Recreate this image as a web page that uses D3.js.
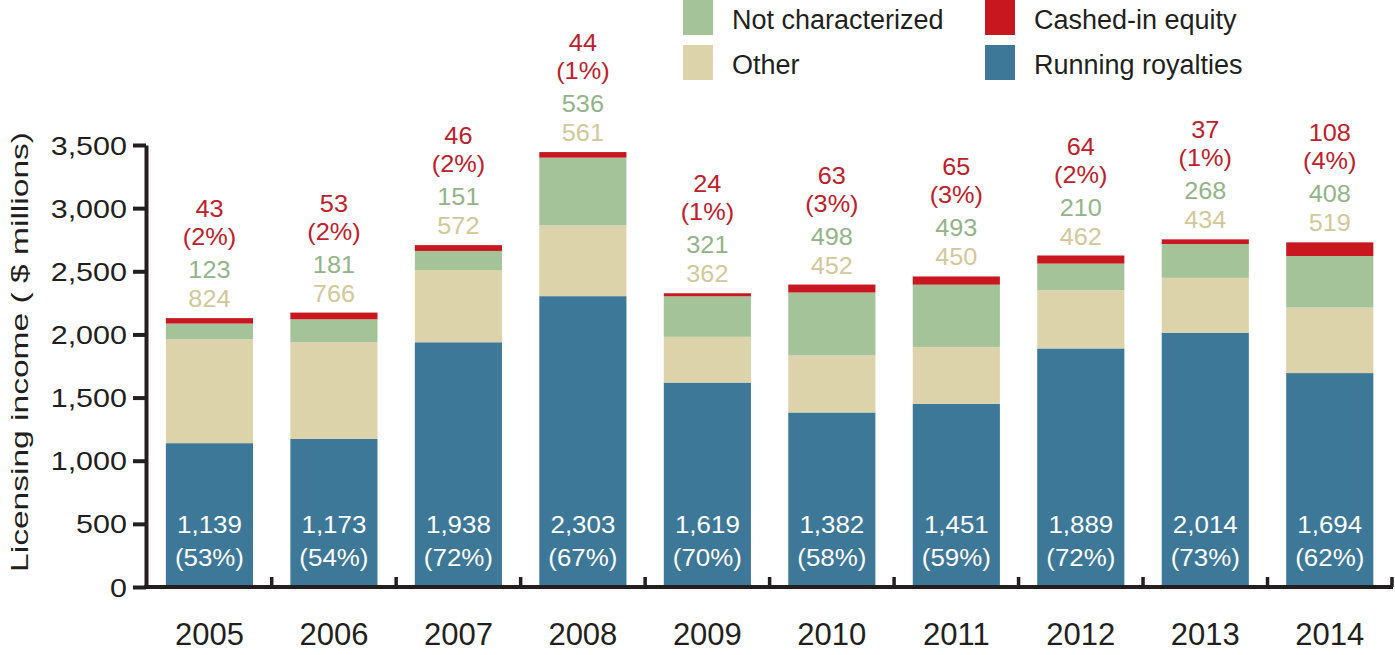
<!DOCTYPE html>
<html>
<head>
<meta charset="utf-8">
<script src="https://cdn.jsdelivr.net/npm/d3@7"></script>
<style>
  html, body { margin: 0; padding: 0; background: #fff; }
  svg { display: block; font-family: "Liberation Sans", Arial, Helvetica, sans-serif; }
</style>
</head>
<body>
<svg id="chart" width="1395" height="655"></svg>
<script>
// ---- data ----
const years = ["2005","2006","2007","2008","2009","2010","2011","2012","2013","2014"];
const royalties = [1139,1173,1938,2303,1619,1382,1451,1889,2014,1694];
const royaltyPct = [53,54,72,67,70,58,59,72,73,62];
const other = [824,766,572,561,362,452,450,462,434,519];
const notCharacterized = [123,181,151,536,321,498,493,210,268,408];
const equity = [43,53,46,44,24,63,65,64,37,108];
const equityPct = [2,2,2,1,1,3,3,2,1,4];
const yTicks = [0,500,1000,1500,2000,2500,3000,3500];
const seriesKeys = ["royalties","other","notChar","equity"];
const legendLabels = {notChar:"Not characterized", equity:"Cashed-in equity", other:"Other", royalties:"Running royalties"};

// ---- styles ----
const colors = {royalties:"#3E7898", other:"#DCD3AA", notChar:"#A5C399", equity:"#C8171E"};
const textColors = {other:"#D3C89A", notChar:"#93B488", equity:"#C1202A"};
const axisColor = "#231F20";

const table = years.map((yr,i)=>({year:yr, royalties:royalties[i], other:other[i], notChar:notCharacterized[i], equity:equity[i], rPct:royaltyPct[i], ePct:equityPct[i]}));

const svg = d3.select("#chart");
const x = d3.scaleBand().domain(years).range([147.2, 1392]).paddingInner(0.3).paddingOuter(0.15);
const y = d3.scaleLinear().domain([0,3500]).range([587,145]);
const step = x.step();

function stretchText(sel, sx) {
  sel.each(function(){
    const t = d3.select(this);
    const tx = +t.attr("data-x") || 0, ty = +t.attr("data-y") || 0;
    t.attr("x",0).attr("y",0).attr("transform",`translate(${tx},${ty}) scale(${sx},1)`);
  });
}

// bars
const stacked = d3.stack().keys(seriesKeys)(table);
svg.append("g").selectAll("g").data(stacked).join("g")
  .attr("fill", d=>colors[d.key])
  .selectAll("rect").data(d=>d).join("rect")
  .attr("x", d=>x(d.data.year))
  .attr("width", x.bandwidth())
  .attr("y", d=>y(d[1]))
  .attr("height", d=>y(d[0])-y(d[1]));

// labels inside bars
const inner = svg.append("g").attr("fill","#fff").attr("font-size",24).attr("text-anchor","middle");
inner.selectAll("text.v").data(table).join("text").attr("class","v")
  .attr("data-x", d=>x(d.year)+x.bandwidth()/2).attr("data-y", y(0)-54)
  .text(d=>d3.format(",")(d.royalties)).call(stretchText,1.08);
inner.selectAll("text.p").data(table).join("text").attr("class","p")
  .attr("data-x", d=>x(d.year)+x.bandwidth()/2).attr("data-y", y(0)-21)
  .text(d=>`(${d.rPct}%)`).call(stretchText,1.08);

// labels above bars
const total = d => d.royalties+d.other+d.notChar+d.equity;
const topLabels = svg.append("g").attr("font-size",23).attr("text-anchor","middle");
const topRows = [
  {off:11, color:textColors.other, txt:d=>d3.format(",")(d.other)},
  {off:40, color:textColors.notChar, txt:d=>d3.format(",")(d.notChar)},
  {off:73, color:textColors.equity, txt:d=>`(${d.ePct}%)`},
  {off:101, color:textColors.equity, txt:d=>d3.format(",")(d.equity)}
];
topRows.forEach((r,ri)=>{
  topLabels.selectAll("text.r"+ri).data(table).join("text").attr("class","r"+ri)
    .attr("fill", r.color)
    .attr("data-x", d=>x(d.year)+x.bandwidth()/2)
    .attr("data-y", d=>y(total(d))-r.off)
    .text(r.txt).call(stretchText,1.1);
});

// y axis
const yAxis = svg.append("g").attr("transform","translate(146,0)")
  .call(d3.axisLeft(y).tickValues(yTicks).tickSize(13).tickSizeOuter(0).tickPadding(0).tickFormat(d3.format(",")));
yAxis.attr("font-family",null).attr("font-size",null);
yAxis.select(".domain").attr("stroke",axisColor).attr("stroke-width",4);
yAxis.selectAll(".tick line").attr("stroke",axisColor).attr("stroke-width",4);
yAxis.selectAll(".tick text")
  .attr("fill",axisColor).attr("font-size",25)
  .attr("data-x",-19).attr("data-y",0).attr("dy","0.36em")
  .call(stretchText,1.22);

// x axis
const xAxis = svg.append("g");
xAxis.append("line").attr("x1",144).attr("x2",1393).attr("y1",y(0)).attr("y2",y(0))
  .attr("stroke",axisColor).attr("stroke-width",4);
xAxis.selectAll("line.t").data(years).join("line").attr("class","t")
  .attr("x1", d=>x(d)+x.bandwidth()+step*x.paddingInner()/2)
  .attr("x2", d=>x(d)+x.bandwidth()+step*x.paddingInner()/2)
  .attr("y1", y(0)).attr("y2", y(0)-10)
  .attr("stroke",axisColor).attr("stroke-width",3.5);
xAxis.selectAll("text").data(years).join("text")
  .attr("x", d=>x(d)+x.bandwidth()/2).attr("y",645)
  .attr("text-anchor","middle").attr("font-size",31).attr("fill",axisColor)
  .text(d=>d);

// y axis title
svg.append("text")
  .attr("transform","translate(28,352) rotate(-90)")
  .attr("text-anchor","middle").attr("font-size",24).attr("fill",axisColor)
  .attr("textLength",440).attr("lengthAdjust","spacingAndGlyphs")
  .text("Licensing income ( $ millions)");

// legend
const legendItems = [
  {key:"notChar", col:0, row:0},
  {key:"other", col:0, row:1},
  {key:"equity", col:1, row:0},
  {key:"royalties", col:1, row:1}
];
const legend = svg.append("g");
legendItems.forEach(it=>{
  const lx = it.col===0 ? 683 : 985;
  const ly = it.row===0 ? 0 : 45;
  legend.append("rect").attr("x",lx).attr("y",ly).attr("width",30).attr("height",35).attr("fill",colors[it.key]);
  legend.append("text").attr("x",lx+49).attr("y",ly+29)
    .attr("font-size",27).attr("fill",axisColor).text(legendLabels[it.key]);
});
</script>
</body>
</html>
